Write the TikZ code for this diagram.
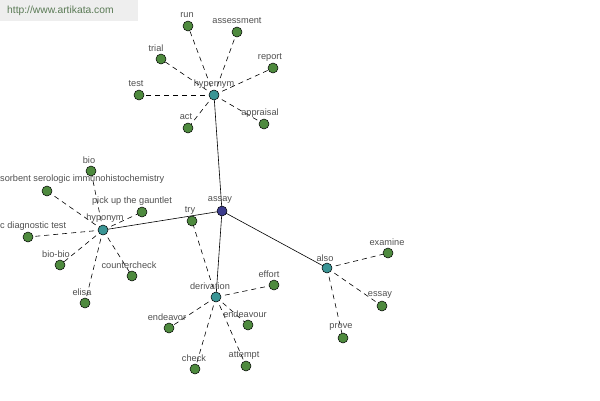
\documentclass[tikz,border=0pt]{standalone}
\usepackage{fontspec}
\setmainfont{Liberation Sans}
\begin{document}
\begin{tikzpicture}[x=1pt,y=-1pt,
  leaf/.style={circle,draw=black,line width=0.5pt,fill=leafgreen,minimum size=10pt,inner sep=0pt},
  hub/.style={circle,draw=black,line width=0.5pt,fill=hubteal,minimum size=10pt,inner sep=0pt},
  root/.style={circle,draw=black,line width=0.5pt,fill=rootblue,minimum size=10pt,inner sep=0pt},
  lbl/.style={text=labelgray,font=\fontsize{9.2}{10}\selectfont,inner sep=0pt},
  rel/.style={line width=0.6pt,black},
  dsh/.style={line width=0.6pt,black,dash pattern=on 5pt off 4pt}]
\definecolor{leafgreen}{HTML}{4E8A3E}
\definecolor{hubteal}{HTML}{3A9595}
\definecolor{rootblue}{HTML}{3B3B8C}
\definecolor{labelgray}{HTML}{505050}
\definecolor{wmgray}{HTML}{EEEEEE}
\definecolor{wmtext}{HTML}{5A7A55}
\useasboundingbox (0,0) rectangle (600,400);
\fill[white] (0,0) rectangle (600,400);
\fill[wmgray] (0,0) rectangle (138,21);
\node[text=wmtext,font=\fontsize{10.3}{11}\selectfont,anchor=west,inner sep=0pt] (wm) at (7,11) {http://www.artikata.com};
% node positions
\coordinate (pAssay) at (222,211);
\coordinate (pHyper) at (214,95);
\coordinate (pHypo) at (103,230);
\coordinate (pDeriv) at (216,297);
\coordinate (pAlso) at (327,268);
% solid relations
\draw[rel] (pAssay) -- (pHyper);
\draw[rel] (pAssay) -- (pHypo);
\draw[rel] (pAssay) -- (pDeriv);
\draw[rel] (pAssay) -- (pAlso);
% leaves
\foreach \n/\x/\y/\h in {run/188/26/pHyper, assessment/237/32/pHyper, trial/161/59/pHyper, report/273/68/pHyper, test/139/95/pHyper, act/188/128/pHyper, appraisal/264/124/pHyper,
  bio/91/171/pHypo, immuno/47/191/pHypo, gauntlet/142/212/pHypo, diag/28/237/pHypo, biobio/60/265/pHypo, countercheck/132/276/pHypo, elisa/85/303/pHypo,
  effort/274/285/pDeriv, endeavor/169/328/pDeriv, endeavour/248/325/pDeriv, check/195/369/pDeriv, attempt/246/366/pDeriv, try/192/221/pDeriv,
  examine/388/253/pAlso, essay/382/306/pAlso, prove/343/338/pAlso}{
  \draw[dsh] (\h) -- (\x,\y);
  \node[leaf] (\n) at (\x,\y) {};
}
\node[root] (assay) at (pAssay) {};
\node[hub] (hypernym) at (pHyper) {};
\node[hub] (hyponym) at (pHypo) {};
\node[hub] (derivation) at (pDeriv) {};
\node[hub] (also) at (pAlso) {};
% labels
\node[lbl] (lassay) at (220,200) {assay};
\node[lbl] (lhyper) at (214,84) {hypernym};
\node[lbl] (lhypo) at (105,218) {hyponym};
\node[lbl] (lderiv) at (210,286) {derivation};
\node[lbl] (lalso) at (325,258) {also};
\node[lbl] (lrun) at (187,15) {run};
\node[lbl] (lassess) at (237,21) {assessment};
\node[lbl] (ltrial) at (156,48) {trial};
\node[lbl] (lreport) at (270,57) {report};
\node[lbl] (ltest) at (136,84) {test};
\node[lbl] (lact) at (186,117) {act};
\node[lbl] (lapp) at (260,113) {appraisal};
\node[lbl] (lbio) at (89,160) {bio};
\node[lbl,anchor=west] (limm) at (0,179) {sorbent serologic immunohistochemistry};
\node[lbl] (lgaunt) at (132,201) {pick up the gauntlet};
\node[lbl,anchor=west] (ldiag) at (0,226) {c diagnostic test};
\node[lbl] (lbiobio) at (56,254) {bio-bio};
\node[lbl] (lcc) at (129,265) {countercheck};
\node[lbl] (lelisa) at (82,292) {elisa};
\node[lbl] (leffort) at (269,274) {effort};
\node[lbl] (lendvr) at (167,317) {endeavor};
\node[lbl] (lendvu) at (245,314) {endeavour};
\node[lbl] (lcheck) at (194,358) {check};
\node[lbl] (lattempt) at (244,355) {attempt};
\node[lbl] (ltry) at (190,210) {try};
\node[lbl] (lexam) at (387,242) {examine};
\node[lbl] (lessay) at (380,295) {essay};
\node[lbl] (lprove) at (341,327) {prove};
\end{tikzpicture}
\end{document}
